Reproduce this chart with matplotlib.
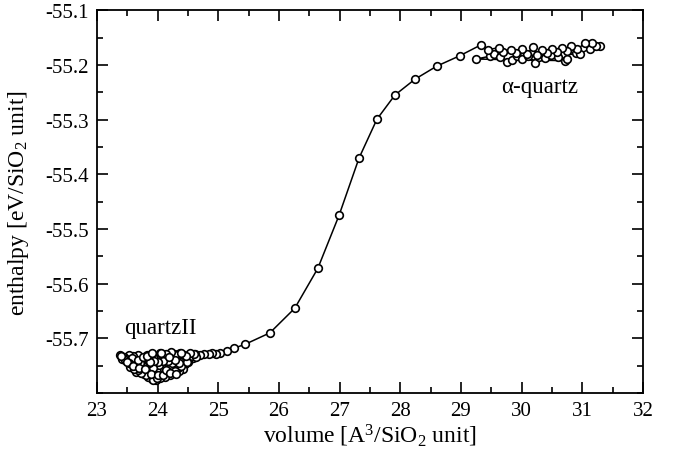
import numpy as np
import matplotlib
matplotlib.use('Agg')
import matplotlib.pyplot as plt
from matplotlib.ticker import MultipleLocator

plt.rcParams['font.family'] = 'Liberation Serif'
plt.rcParams['mathtext.fontset'] = 'custom'
plt.rcParams['mathtext.rm'] = 'Liberation Serif'
plt.rcParams['mathtext.it'] = 'Liberation Serif:italic'

# alpha-quartz region (start of the run)
vol_alpha = [30.72, 29.25, 29.47, 29.55, 29.65, 29.76, 29.84, 29.92, 30.00, 30.10,
             30.22, 30.28, 30.38, 30.48, 30.60, 30.75, 30.80, 30.90, 30.96, 31.12,
             31.29, 31.22, 31.16, 31.04, 30.92, 30.81, 30.74, 30.66, 30.58, 30.50,
             30.42, 30.33, 30.25, 30.19, 30.08, 30.00, 29.90, 29.82, 29.70, 29.62,
             29.45, 29.33]
h_alpha = [-55.192, -55.189, -55.184, -55.180, -55.186, -55.195, -55.191, -55.184, -55.189, -55.184,
           -55.196, -55.185, -55.188, -55.181, -55.185, -55.189, -55.172, -55.178, -55.180, -55.170,
           -55.165, -55.166, -55.160, -55.160, -55.171, -55.165, -55.174, -55.168, -55.176, -55.170,
           -55.178, -55.172, -55.182, -55.167, -55.180, -55.170, -55.178, -55.172, -55.176, -55.168,
           -55.172, -55.163]

# transition alpha -> quartzII
vol_trans = [28.98, 28.60, 28.24, 27.91, 27.615, 27.32, 26.99, 26.64, 26.26, 25.85,
             25.44, 25.26, 25.14]
h_trans = [-55.183, -55.202, -55.226, -55.255, -55.299, -55.370, -55.475, -55.572, -55.645, -55.690,
           -55.711, -55.718, -55.724]

# quartzII region
vol_q2 = [25.03, 24.96, 24.90, 24.84, 24.77, 24.70, 24.62, 24.55, 24.47, 24.40,
          24.33, 24.27, 24.20, 24.13, 24.06, 23.98, 23.90, 23.83, 23.75, 23.68,
          23.60, 23.52, 23.45, 23.38, 23.42, 23.50, 23.57, 23.63, 23.70, 23.77,
          23.85, 23.92, 24.00, 24.08, 24.16, 24.24, 24.31, 24.38, 24.45, 24.52,
          24.58, 24.50, 24.42, 24.35, 24.28, 24.20, 24.12, 24.04, 23.97, 23.90,
          23.84, 23.78, 23.72, 23.66, 23.60, 23.55, 23.65, 23.74, 23.81, 23.88,
          23.95, 24.02, 24.10, 24.18, 24.26, 24.33, 24.22, 24.11, 24.02, 23.93,
          23.86, 23.79, 23.71, 23.64, 23.56, 23.48, 23.58, 23.67, 23.76, 23.86,
          23.96, 24.06, 24.15, 24.24, 24.34, 24.44, 24.37, 24.29, 24.22, 24.14,
          24.04, 23.98, 23.93, 23.99, 23.87, 23.80, 23.73, 23.68, 23.61, 23.53,
          23.47, 23.40, 23.49, 23.59, 23.69, 23.79, 23.89, 24.00, 24.09, 24.19,
          24.29, 24.39, 24.48, 24.56, 24.64, 24.60, 24.53, 24.46, 24.39, 24.31,
          24.24, 24.17, 24.09, 24.01, 23.94, 23.87, 23.83, 23.90, 24.05, 24.13,
          24.21, 24.30, 24.36, 24.28, 24.19]
h_q2 = [-55.727, -55.728, -55.727, -55.729, -55.728, -55.730, -55.729, -55.733, -55.738, -55.731,
        -55.735, -55.729, -55.737, -55.731, -55.740, -55.733, -55.738, -55.730, -55.736, -55.731,
        -55.733, -55.730, -55.734, -55.731, -55.737, -55.741, -55.746, -55.741, -55.748, -55.743,
        -55.750, -55.745, -55.752, -55.746, -55.753, -55.746, -55.751, -55.743, -55.747, -55.740,
        -55.736, -55.744, -55.756, -55.760, -55.764, -55.767, -55.770, -55.773, -55.776, -55.774,
        -55.770, -55.765, -55.760, -55.755, -55.751, -55.752, -55.762, -55.757, -55.761, -55.758,
        -55.763, -55.760, -55.764, -55.759, -55.757, -55.754, -55.750, -55.756, -55.748, -55.754,
        -55.746, -55.752, -55.745, -55.749, -55.742, -55.738, -55.736, -55.740, -55.735, -55.742,
        -55.738, -55.735, -55.740, -55.733, -55.728, -55.731, -55.726, -55.730, -55.725, -55.729,
        -55.727, -55.769, -55.777, -55.772, -55.766, -55.768, -55.763, -55.758, -55.756, -55.746,
        -55.739, -55.733, -55.744, -55.750, -55.754, -55.757, -55.766, -55.768, -55.767, -55.762,
        -55.760, -55.750, -55.743, -55.732, -55.734, -55.728, -55.726, -55.733, -55.726, -55.742,
        -55.745, -55.742, -55.742, -55.744, -55.741, -55.743, -55.733, -55.726, -55.727, -55.758,
        -55.764, -55.765, -55.746, -55.739, -55.735]

vol = vol_alpha + vol_trans + vol_q2
enth = h_alpha + h_trans + h_q2

fig = plt.figure(figsize=(6.8, 4.56), dpi=100)
ax = fig.add_axes([0.1426, 0.136, 0.803, 0.839])

ax.plot(vol, enth, '-o', color='black', linewidth=1.1,
        markersize=5.5, markerfacecolor='white', markeredgecolor='black',
        markeredgewidth=1.2)

ax.set_xlim(23, 32)
ax.set_ylim(-55.8, -55.1)
ax.set_xticks([23, 24, 25, 26, 27, 28, 29, 30, 31, 32])
ax.set_yticks([-55.7, -55.6, -55.5, -55.4, -55.3, -55.2, -55.1])
ax.set_yticklabels(['-55.7', '-55.6', '-55.5', '-55.4', '-55.3', '-55.2', '-55.1'])
ax.xaxis.set_minor_locator(MultipleLocator(0.5))
ax.yaxis.set_minor_locator(MultipleLocator(0.05))
ax.tick_params(which='both', direction='in', top=True, right=True, labelsize=15, width=1.2)
ax.tick_params(which='major', length=8, pad=6)
ax.tick_params(which='minor', length=4)
for s in ax.spines.values():
    s.set_linewidth(1.3)

ax.set_xlabel('volume [A$^3$/SiO$_2$ unit]', fontsize=17, labelpad=1)
ax.set_ylabel('enthalpy [eV/SiO$_2$ unit]', fontsize=17, labelpad=10)

ax.text(24.05, -55.70, 'quartzII', fontsize=16.5, ha='center', va='bottom')
ax.text(30.3, -55.24, 'α-quartz', fontsize=16.5, ha='center', va='center')

fig.savefig('out.png', dpi=100)
